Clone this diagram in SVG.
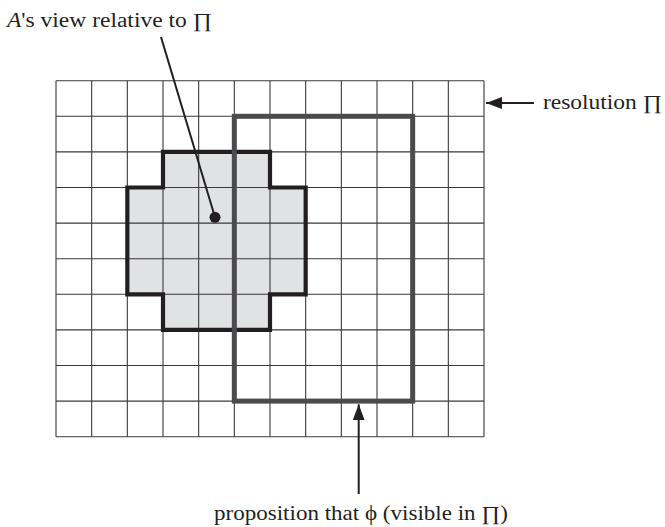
<svg xmlns="http://www.w3.org/2000/svg" width="665" height="527" viewBox="0 0 665 527">
  <style>
    .grid { stroke: #3a3a3a; stroke-width: 1.1; fill: none; }
    .lbl { font-family: 'Liberation Serif', 'Times New Roman', serif; font-size: 20px; fill: #231f20; }
    .conn { stroke: #231f20; stroke-width: 2; fill: none; }
  </style>
  <defs>
    <marker id="ah" markerWidth="16" markerHeight="12" refX="16" refY="6" orient="auto" markerUnits="userSpaceOnUse">
      <path d="M0,0 L16,6 L0,12 Z" fill="#231f20"/>
    </marker>
  </defs>
  <rect width="665" height="527" fill="#ffffff"/>

  <g id="view-region-fill">
    <polygon points="163,151.9 270,151.9 270,187.5 305.67,187.5 305.67,294.3 270,294.3 270,329.9 163,329.9 163,294.3 127.33,294.3 127.33,187.5 163,187.5" fill="#e1e2e4"/>
  </g>

  <g id="grid" class="grid">
    <path d="M56,80.7V436.7M91.67,80.7V436.7M127.33,80.7V436.7M163,80.7V436.7M198.67,80.7V436.7M234.33,80.7V436.7M270,80.7V436.7M305.67,80.7V436.7M341.33,80.7V436.7M377,80.7V436.7M412.67,80.7V436.7M448.33,80.7V436.7M484,80.7V436.7"/>
    <path d="M56,80.7H484M56,116.3H484M56,151.9H484M56,187.5H484M56,223.1H484M56,258.7H484M56,294.3H484M56,329.9H484M56,365.5H484M56,401.1H484M56,436.7H484"/>
  </g>

  <g id="view-region">
    <polygon points="163,151.9 270,151.9 270,187.5 305.67,187.5 305.67,294.3 270,294.3 270,329.9 163,329.9 163,294.3 127.33,294.3 127.33,187.5 163,187.5" fill="none" stroke="#231f20" stroke-width="4.2" stroke-linejoin="miter"/>
  </g>

  <g id="proposition-region">
    <rect x="234.33" y="116.3" width="178.34" height="284.8" fill="none" stroke="#4b4b4d" stroke-width="5"/>
  </g>

  <g id="view-point">
    <circle cx="215" cy="217.3" r="5.5" fill="#231f20"/>
  </g>

  <g id="connectors">
    <line class="conn" x1="161" y1="37" x2="215" y2="217.3" stroke-width="1.6"/>
    <line class="conn" x1="534" y1="103" x2="486" y2="103" marker-end="url(#ah)"/>
    <line class="conn" x1="358.7" y1="494" x2="358.7" y2="404.3" marker-end="url(#ah)"/>
  </g>

  <g id="label-view">
    <text class="lbl" font-family="Liberation Serif, serif" x="7" y="27" textLength="205" lengthAdjust="spacingAndGlyphs"><tspan font-style="italic">A</tspan>'s view relative to ∏</text>
  </g>
  <g id="label-resolution">
    <text class="lbl" font-family="Liberation Serif, serif" x="543" y="109" textLength="119" lengthAdjust="spacingAndGlyphs">resolution ∏</text>
  </g>
  <g id="label-proposition">
    <text class="lbl" font-family="Liberation Serif, serif" x="214" y="520" textLength="294" lengthAdjust="spacingAndGlyphs">proposition that ϕ (visible in ∏)</text>
  </g>
</svg>
